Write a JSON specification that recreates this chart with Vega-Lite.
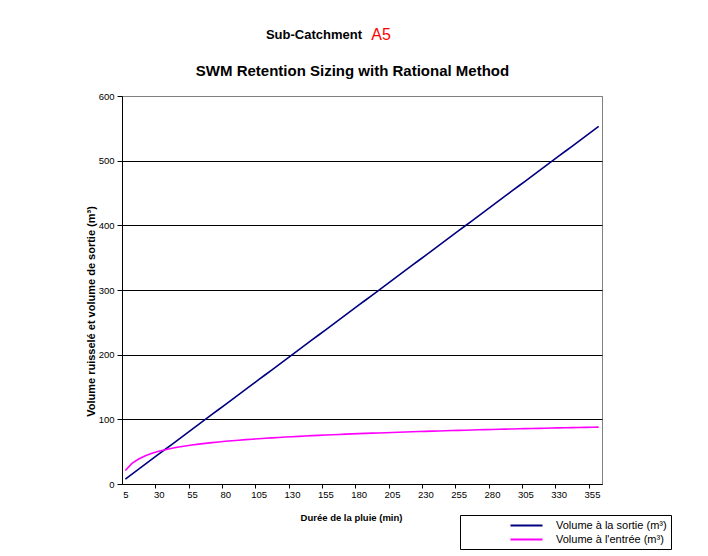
{
  "$schema": "https://vega.github.io/schema/vega-lite/v6.json",
  "autosize": {"type": "none"},
  "padding": {"left": 122, "top": 96, "right": 106, "bottom": 72},
  "width": 480,
  "height": 388,
  "background": "white",
  "config": {
    "font": "Liberation Sans",
    "view": {"stroke": "#808080", "strokeWidth": 1}
  },
  "title": {
    "text": "SWM Retention Sizing with Rational Method",
    "font": "Liberation Sans",
    "fontSize": 15,
    "fontWeight": "bold",
    "color": "black",
    "offset": -52,
    "anchor": "middle",
    "dx": -9.5
  },
  "layer": [
    {
      "data": {"values": [
        {"t":5,"sortie":7.68,"entree":20.97},
        {"t":10,"sortie":15.36,"entree":31.78},
        {"t":15,"sortie":23.04,"entree":38.71},
        {"t":20,"sortie":30.72,"entree":43.67},
        {"t":25,"sortie":38.40,"entree":47.48},
        {"t":30,"sortie":46.08,"entree":50.53},
        {"t":35,"sortie":53.76,"entree":53.08},
        {"t":40,"sortie":61.44,"entree":55.22},
        {"t":45,"sortie":69.12,"entree":57.11},
        {"t":50,"sortie":76.80,"entree":58.79},
        {"t":55,"sortie":84.48,"entree":60.28},
        {"t":60,"sortie":92.16,"entree":61.62},
        {"t":65,"sortie":99.84,"entree":62.85},
        {"t":70,"sortie":107.52,"entree":64.00},
        {"t":75,"sortie":115.20,"entree":65.04},
        {"t":80,"sortie":122.88,"entree":66.02},
        {"t":85,"sortie":130.56,"entree":66.90},
        {"t":90,"sortie":138.24,"entree":67.76},
        {"t":95,"sortie":145.92,"entree":68.57},
        {"t":100,"sortie":153.60,"entree":69.32},
        {"t":105,"sortie":161.28,"entree":70.06},
        {"t":110,"sortie":168.96,"entree":70.75},
        {"t":115,"sortie":176.64,"entree":71.36},
        {"t":120,"sortie":184.32,"entree":72.01},
        {"t":125,"sortie":192.00,"entree":72.60},
        {"t":130,"sortie":199.68,"entree":73.15},
        {"t":135,"sortie":207.36,"entree":73.70},
        {"t":140,"sortie":215.04,"entree":74.25},
        {"t":145,"sortie":222.72,"entree":74.76},
        {"t":150,"sortie":230.40,"entree":75.25},
        {"t":155,"sortie":238.08,"entree":75.71},
        {"t":160,"sortie":245.76,"entree":76.20},
        {"t":165,"sortie":253.44,"entree":76.62},
        {"t":170,"sortie":261.12,"entree":77.05},
        {"t":175,"sortie":268.80,"entree":77.44},
        {"t":180,"sortie":276.48,"entree":77.84},
        {"t":185,"sortie":284.16,"entree":78.22},
        {"t":190,"sortie":291.84,"entree":78.62},
        {"t":195,"sortie":299.52,"entree":78.98},
        {"t":200,"sortie":307.20,"entree":79.34},
        {"t":205,"sortie":314.88,"entree":79.70},
        {"t":210,"sortie":322.56,"entree":80.07},
        {"t":215,"sortie":330.24,"entree":80.40},
        {"t":220,"sortie":337.92,"entree":80.76},
        {"t":225,"sortie":345.60,"entree":81.10},
        {"t":230,"sortie":353.28,"entree":81.44},
        {"t":235,"sortie":360.96,"entree":81.76},
        {"t":240,"sortie":368.64,"entree":82.07},
        {"t":245,"sortie":376.32,"entree":82.36},
        {"t":250,"sortie":384.00,"entree":82.65},
        {"t":255,"sortie":391.68,"entree":82.94},
        {"t":260,"sortie":399.36,"entree":83.22},
        {"t":265,"sortie":407.04,"entree":83.52},
        {"t":270,"sortie":414.72,"entree":83.79},
        {"t":275,"sortie":422.40,"entree":84.06},
        {"t":280,"sortie":430.08,"entree":84.31},
        {"t":285,"sortie":437.76,"entree":84.58},
        {"t":290,"sortie":445.44,"entree":84.84},
        {"t":295,"sortie":453.12,"entree":85.09},
        {"t":300,"sortie":460.80,"entree":85.33},
        {"t":305,"sortie":468.48,"entree":85.57},
        {"t":310,"sortie":476.16,"entree":85.81},
        {"t":315,"sortie":483.84,"entree":86.05},
        {"t":320,"sortie":491.52,"entree":86.28},
        {"t":325,"sortie":499.20,"entree":86.51},
        {"t":330,"sortie":506.88,"entree":86.73},
        {"t":335,"sortie":514.56,"entree":86.96},
        {"t":340,"sortie":522.24,"entree":87.17},
        {"t":345,"sortie":529.92,"entree":87.39},
        {"t":350,"sortie":537.60,"entree":87.61},
        {"t":355,"sortie":545.28,"entree":87.82},
        {"t":360,"sortie":552.96,"entree":88.02}
      ]},
      "transform": [{"fold": ["sortie", "entree"], "as": ["serie", "vol"]}],
      "mark": {"type": "line", "strokeWidth": 1.6, "clip": true},
      "encoding": {
        "x": {
          "field": "t", "type": "quantitative",
          "scale": {"domain": [2.5, 362.5], "nice": false, "zero": false},
          "axis": {
            "values": [5,30,55,80,105,130,155,180,205,230,255,280,305,330,355],
            "ticks": false, "grid": false,
            "domainColor": "black", "domainWidth": 1,
            "labelFontSize": 9.5, "labelColor": "black", "labelPadding": 5,
            "labelFlush": false, "labelOverlap": false,
            "title": "Durée de la pluie (min)",
            "titleFontSize": 9.5, "titleFontWeight": "bold", "titleColor": "black",
            "titleX": 229, "titleY": 33, "titleBaseline": "middle", "titleAlign": "center"
          }
        },
        "y": {
          "field": "vol", "type": "quantitative",
          "scale": {"domain": [0, 600], "nice": false},
          "axis": {
            "values": [0,100,200,300,400,500,600],
            "grid": true,
            "gridColor": {"condition": {"test": "datum.value == 600", "value": "#808080"}, "value": "black"},
            "gridOpacity": 1, "gridWidth": 1,
            "domainColor": "black", "tickColor": "black", "tickSize": 5,
            "labelFontSize": 9.5, "labelColor": "black", "labelPadding": 3,
            "title": "Volume ruisselé et volume de sortie (m³)",
            "titleFontSize": 11, "titleFontWeight": "bold", "titleColor": "black",
            "titleX": -31, "titleY": 215, "titleAngle": -90,
            "titleBaseline": "middle", "titleAlign": "center"
          }
        },
        "color": {
          "field": "serie", "type": "nominal",
          "scale": {"domain": ["sortie", "entree"], "range": ["#000080", "#FF00FF"]},
          "legend": {
            "orient": "none", "legendX": 338, "legendY": 419,
            "title": null,
            "strokeColor": "black", "fillColor": "white",
            "padding": 4, "symbolOffset": 56,
            "symbolType": "M-3,0H3", "symbolSize": 114, "symbolStrokeWidth": 2,
            "labelFontSize": 11, "labelColor": "black", "labelOffset": 23,
            "labelLimit": 400, "rowPadding": 2,
            "labelExpr": "datum.label == 'sortie' ? 'Volume à la sortie (m³)' : \"Volume à l'entrée  (m³)\""
          }
        }
      }
    },
    {
      "data": {"values": [{"label": "Sub-Catchment"}]},
      "mark": {"type": "text", "color": "black", "fontSize": 13, "fontWeight": "bold", "align": "right", "baseline": "middle", "font": "Liberation Sans"},
      "encoding": {
        "text": {"field": "label"},
        "x": {"datum": 182.5, "type": "quantitative", "axis": null},
        "y": {"datum": 694, "type": "quantitative"}
      }
    },
    {
      "data": {"values": [{"label": "A5"}]},
      "mark": {"type": "text", "color": "#FF0000", "fontSize": 16, "align": "left", "baseline": "middle", "font": "Liberation Sans"},
      "encoding": {
        "text": {"field": "label"},
        "x": {
          "datum": 189.5, "type": "quantitative",
          "axis": {
            "orient": "bottom",
            "values": [27.5,52.5,77.5,102.5,127.5,152.5,177.5,202.5,227.5,252.5,277.5,302.5,327.5,352.5],
            "labels": false, "domain": false, "grid": false,
            "ticks": true, "tickSize": 4, "tickColor": "black", "title": null
          }
        },
        "y": {"datum": 694, "type": "quantitative"}
      }
    }
  ],
  "resolve": {"axis": {"x": "independent"}}
}
